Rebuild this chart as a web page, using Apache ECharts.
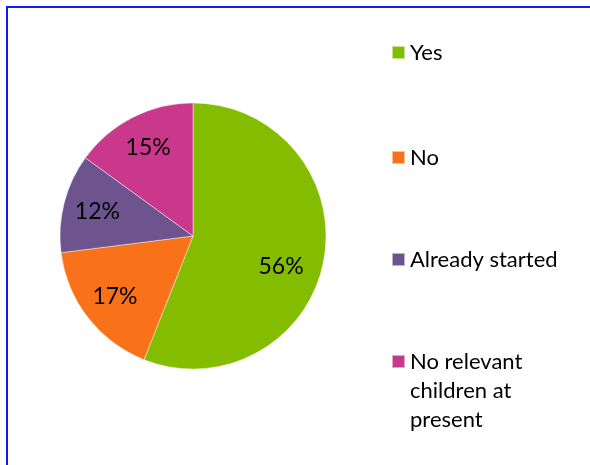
<!DOCTYPE html>
<html>
<head>
<meta charset="utf-8">
<script src="https://cdn.jsdelivr.net/npm/echarts@6/dist/echarts.min.js"></script>
<style>
  html, body { margin: 0; padding: 0; background: #fff; }
  #chart { width: 590px; height: 465px; }
</style>
</head>
<body>
<div id="chart"></div>
<script>
// Survey answers, share of respondents (%)
const categories = ['Yes', 'No', 'Already started', 'No relevant children at present'];
const shares = [56, 17, 12, 15];
const colors = ['#84BC00', '#F97119', '#6D548F', '#CA388B'];

// legend rows, top offsets of each entry
const legendTops = [38, 143, 245, 289];

const FONT = 'Lato';
const R = 133;
const LEGEND_LINE_CHARS = 15;

const chart = echarts.init(document.getElementById('chart'), null, { renderer: 'canvas' });

const sliceData = categories.map((name, i) => ({
  name,
  value: shares[i],
  itemStyle: { color: colors[i] }
}));

// same slices, transparent, only used to carry the percentage labels further out
const labelData = categories.map((name, i) => {
  const d = { name, value: shares[i] };
  if (i === 0) d.label = { offset: [-9, 12] };
  return d;
});

// wrap long legend names into short lines; the leading blank lines keep
// the colour key level with the first line of a wrapped entry
function wrapLegend(name) {
  const words = name.split(' ');
  const lines = [];
  let cur = '';
  words.forEach(w => {
    const next = cur ? cur + ' ' + w : w;
    if (next.length > LEGEND_LINE_CHARS && cur) { lines.push(cur); cur = w; } else { cur = next; }
  });
  lines.push(cur);
  if (lines.length === 1) return name;
  const pad = new Array(lines.length - 1).fill('').join('\n') + '\n';
  return pad + lines.join('\n');
}

const legends = categories.map((name, i) => ({
  data: [name],
  orient: 'vertical',
  left: 391,
  top: legendTops[i],
  padding: 0,
  itemWidth: 13,
  itemHeight: 13,
  icon: 'rect',
  selectedMode: false,
  formatter: wrapLegend,
  textStyle: {
    fontFamily: FONT,
    fontSize: 22,
    color: '#000',
    lineHeight: 29
  }
}));

chart.setOption({
  backgroundColor: '#fff',
  animation: false,
  color: colors,
  legend: legends,
  graphic: [{
    type: 'rect',
    shape: { x: 7, y: 7, width: 700, height: 700 },
    style: { fill: 'none', stroke: '#1616FF', lineWidth: 2 },
    silent: true
  }],
  series: [
    {
      type: 'pie',
      center: [193, 236],
      radius: [0, R],
      startAngle: 90,
      clockwise: true,
      data: sliceData,
      label: { show: false },
      labelLine: { show: false },
      itemStyle: { borderColor: 'rgba(255,255,255,0.55)', borderWidth: 0.8 },
      emphasis: { disabled: true }
    },
    {
      type: 'pie',
      center: [193, 236],
      radius: [R * 0.44, R],
      startAngle: 90,
      clockwise: true,
      silent: true,
      data: labelData,
      itemStyle: { color: 'rgba(0,0,0,0)', borderWidth: 0 },
      label: {
        show: true,
        position: 'inside',
        formatter: p => p.value + '%',
        fontFamily: FONT,
        fontSize: 23,
        color: '#000'
      },
      labelLine: { show: false },
      emphasis: { disabled: true }
    }
  ]
});
</script>
</body>
</html>
